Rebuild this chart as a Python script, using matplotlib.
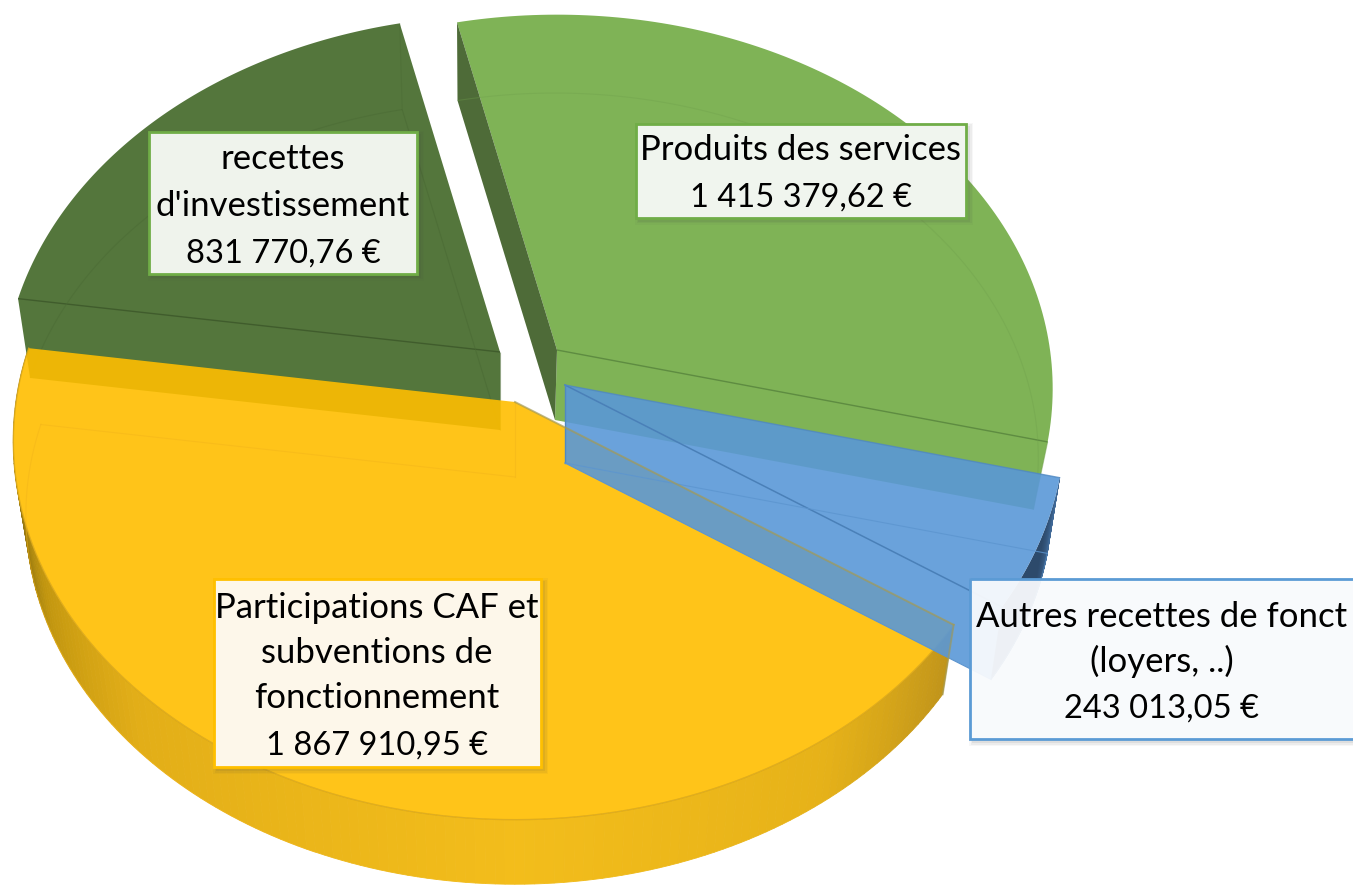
import numpy as np
import matplotlib
matplotlib.use('Agg')
import matplotlib.pyplot as plt
from matplotlib.patches import Polygon, Rectangle

# data
categories = [['Produits des services'],
              ['Autres recettes de fonct', '(loyers, ..)'],
              ['Participations CAF et', 'subventions de', 'fonctionnement'],
              ['recettes', "d'investissement"]]
values = [1415379.62, 243013.05, 1867910.95, 831770.76]
amounts = ['1 415 379,62 €', '243 013,05 €', '1 867 910,95 €', '831 770,76 €']

# layout, in pixels of the picture
W, H = 1353, 888
A, B, K = 497.0, 373.0, 0.1034   # ellipse radii and perspective
S = 0.975                        # lower rim is a bit smaller
START = 102.9                    # first slice starts here, goes clockwise
tops = [(557, 350), (565, 385), (515, 402), (500, 352)]
bottoms = [(555, 420), (565, 463), (515, 477), (500, 430)]
radii = [0.992, 1.0, 1.004, 0.995]
boxes = [(636, 124, 966, 218), (970, 579, 1360, 739), (214, 579, 541, 767), (149, 132, 417, 274)]
baselines = [[160, 207], [627, 672, 718], [618, 663, 708, 755], [169, 216, 263]]
centers = [801, 1162, 377, 283]
box_faces = ['#F0F5EE', '#FAFCFF', '#FDF7EA', '#EFF3EC']
box_edges = ['#70AD47', '#5B9BD5', '#FFC000', '#70AD47']
box_alpha = [1, 0.94, 1, 1]
fills = ['#7FB356', '#5A98D7', '#FFBE00', '#54763C']
fill_alpha = [1, 0.9, 0.9, 1]

angles = START - np.cumsum([0] + values) / sum(values) * 360.0


def rim(t, c, s=1.0):
    t = np.radians(t)
    w = 1 + K * np.sin(t)
    return np.column_stack([c[0] + s * A * np.cos(t) / w, c[1] - s * B * np.sin(t) / w])


def arc(t0, t1, c, s=1.0):
    return rim(np.linspace(t0, t1, 120), c, s)


def line(ax, pts, color, lw=1.0, alpha=1.0):
    pts = np.array(pts)
    ax.plot(pts[:, 0], pts[:, 1], color=color, lw=lw, alpha=alpha, solid_capstyle='butt')


def outer_wall(ax, t0, t1, top, bot, r, stops, cols):
    ts = np.linspace(t0, t1, 150)
    cols = np.array([matplotlib.colors.to_rgb(c) for c in cols])
    for a, b in zip(ts[:-1], ts[1:]):
        col = [np.interp((a + b) / 2, stops, cols[:, n]) for n in range(3)]
        pts = np.vstack([rim(np.array([a, b]), top, r), rim(np.array([b, a]), bot, S * r)])
        ax.add_patch(Polygon(pts, closed=True, fc=col, ec=col, lw=0.6))


fig = plt.figure(figsize=(W / 100, H / 100), dpi=100)
ax = fig.add_axes([0, 0, 1, 1])
ax.set_xlim(0, W)
ax.set_ylim(H, 0)
ax.axis('off')

a0, a1, a2, a3, a4 = angles

# outer walls that show, then white so they do not shine through the faces
outer_wall(ax, a3, a2, tops[2], bottoms[2], radii[2],
           [-188, -172, -155, -135, -90, -55, -34],
           ['#5A4A0C', '#7A6410', '#C2960F', '#E2AE18', '#F3BD1B', '#E6B219', '#C0941A'])
outer_wall(ax, a2, a1, tops[1], bottoms[1], radii[1], [-34, -22, -14], ['#2D4A6B', '#2D4A6B', '#3F6896'])
ax.add_patch(Polygon(np.vstack([[tops[2]], arc(a2, a3, tops[2], radii[2]), [bottoms[2]]]), fc='white', ec='none'))
ax.add_patch(Polygon(np.vstack([[tops[1]], arc(a1, a2, tops[1], radii[1]), [bottoms[1]]]), fc='white', ec='none'))

# dark green
top, bot = tops[3], bottoms[3]
upper, lower = arc(a3, a4, top, radii[3]), arc(a3, a4, bot, S * radii[3])
ax.add_patch(Polygon(np.vstack([[top], upper[::-1], lower[:1], [bot]]), fc=fills[3], ec='none'))
line(ax, [top, upper[0]], '#3E5A2B', 1.0, 0.9)
line(ax, [top, bot], '#4A6A34', 0.8, 0.6)
line(ax, lower, '#4A6A34', 0.8, 0.5)
line(ax, [bot, lower[-1]], '#4A6A34', 0.8, 0.6)
line(ax, [upper[-1], lower[-1]], '#4A6A34', 0.8, 0.4)

# green
top, bot = tops[0], bottoms[0]
upper, lower = arc(a0, a1, top, radii[0]), arc(a0, a1, bot, S * radii[0])
ax.add_patch(Polygon(np.vstack([[top], upper, lower[-1:], [bot]]), fc=fills[0], ec='none', zorder=2))
ax.add_patch(Polygon(np.vstack([[top], upper[:1], lower[:1], [bot]]), fc='#4E6B38', ec='none', zorder=2))
line(ax, [top, upper[-1]], '#5E8C41', 1.0)
line(ax, lower, '#6F9F4C', 0.8, 0.35)
line(ax, [upper[-1], lower[-1]], '#6F9F4C', 0.8, 0.5)

# yellow
top, bot = tops[2], bottoms[2]
upper, lower = arc(a2, a3, top, radii[2]), arc(a2, a3, bot, S * radii[2])
ax.add_patch(Polygon(np.vstack([[top], upper]), fc=fills[2], ec='none', alpha=fill_alpha[2], zorder=3))
ax.plot(upper[:, 0], upper[:, 1], color='#D9A514', lw=1.0, alpha=0.8, zorder=3)
for pts in ([bot, lower[-1]], [top, bot], lower[60:]):
    pts = np.array(pts)
    ax.plot(pts[:, 0], pts[:, 1], color='#F3B51A', lw=0.8, alpha=0.5, zorder=3)

# blue, with its front cut side
top, bot = tops[1], bottoms[1]
upper, lower = arc(a1, a2, top, radii[1]), arc(a1, a2, bot, S * radii[1])
ax.add_patch(Polygon(np.vstack([[top], upper, lower[-1:], [bot]]), fc=fills[1], ec='none', alpha=fill_alpha[1], zorder=4))
for pts, col, lw, al in (([top, upper[-1]], '#4A80B8', 1.1, 1.0),
                         ([top, upper[0]], '#4F88C2', 1.0, 0.8),
                         ([bot, lower[0]], '#5C95CF', 0.8, 0.8),
                         ([top, bot], '#4F88C2', 1.0, 1.0),
                         ([bot, lower[-1]], '#5C95CF', 0.8, 1.0),
                         (lower, '#5C95CF', 0.8, 0.5)):
    pts = np.array(pts)
    ax.plot(pts[:, 0], pts[:, 1], color=col, lw=lw, alpha=al, zorder=4)

# yellow edge seen through the blue slice
yu = rim(np.array([a2]), tops[2], radii[2])[0]
yl = rim(np.array([a2]), bottoms[2], S * radii[2])[0]
ax.plot([tops[2][0], yu[0]], [tops[2][1], yu[1]], color='#A39A55', lw=1.4, alpha=0.7, zorder=4)
ax.plot([yu[0], yl[0]], [yu[1], yl[1]], color='#A39A55', lw=1.4, alpha=0.6, zorder=4)

# labels
for i in range(4):
    x0, y0, x1, y1 = boxes[i]
    for g, al in zip([8, 5, 2], [0.04, 0.06, 0.08]):
        ax.add_patch(Rectangle((x0 + 3 - g / 2, y0 + 3 - g / 2), x1 - x0 + g, y1 - y0 + g,
                               fc='#444444', ec='none', alpha=al, zorder=5))
    ax.add_patch(Rectangle((x0, y0), x1 - x0, y1 - y0, fc=box_faces[i], ec='none', alpha=box_alpha[i], zorder=5))
    ax.add_patch(Rectangle((x0, y0), x1 - x0, y1 - y0, fc='none', ec=box_edges[i], lw=2, zorder=5))
    for txt, yb in zip(categories[i], baselines[i]):
        ax.text(centers[i], yb, txt, ha='center', va='baseline', family='Lato', fontsize=25, color='black', zorder=6)
    ax.text(centers[i], baselines[i][-1], amounts[i], ha='center', va='baseline', family='Lato',
            fontsize=23.5, color='black', zorder=6)

fig.savefig('out.png', dpi=100)
